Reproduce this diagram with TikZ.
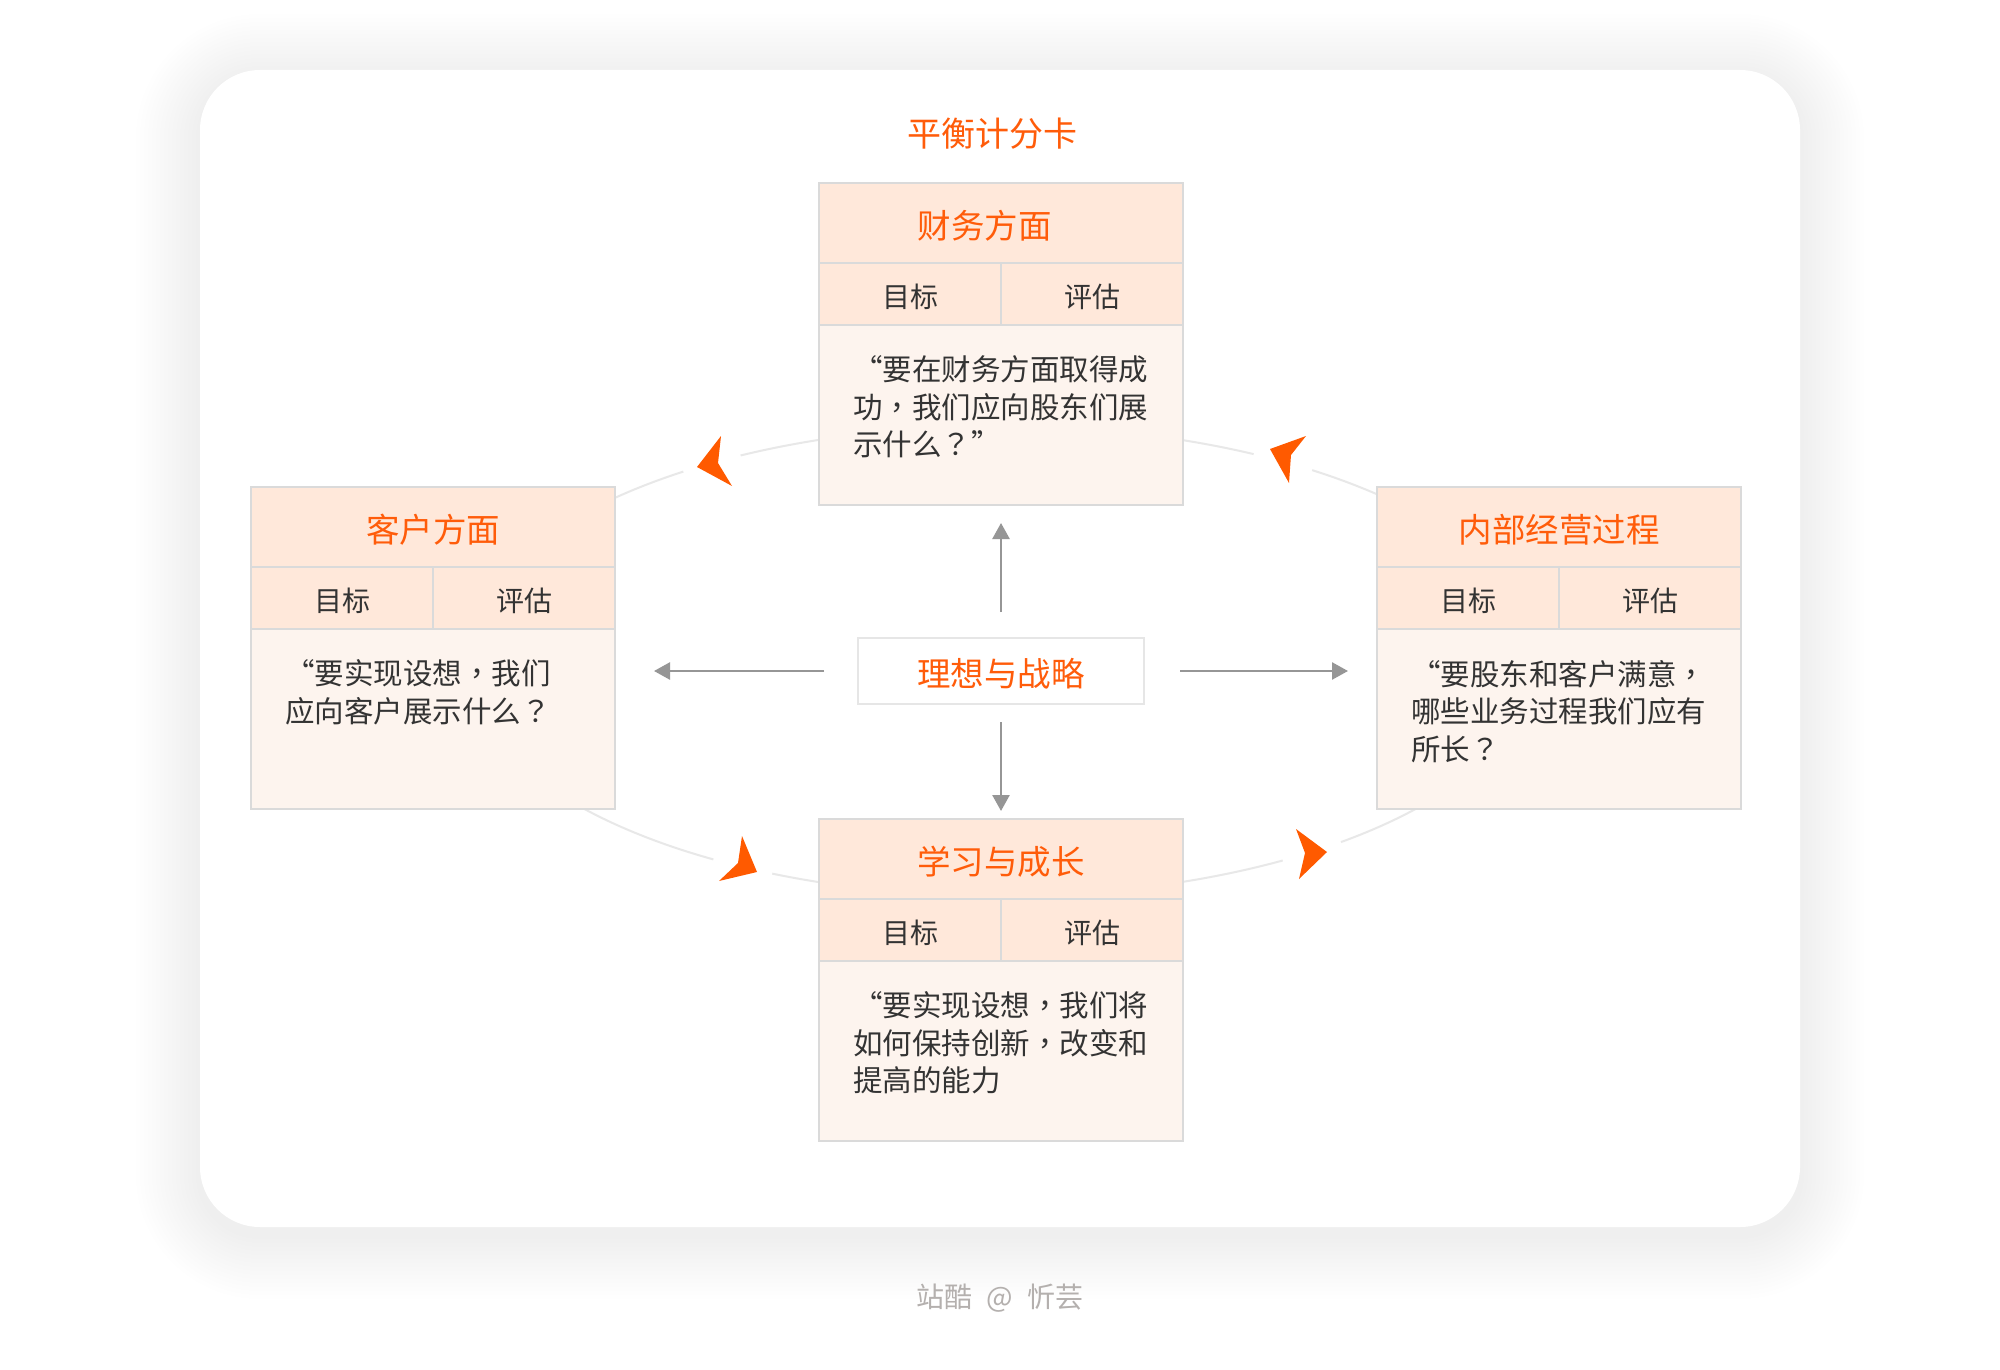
\documentclass[tikz,border=0pt]{standalone}
\usepackage{fontspec}
\newfontfamily\cjk{Noto Sans CJK SC}
\newfontfamily\cjkp{Noto Sans CJK TC}
\usetikzlibrary{arrows.meta,calc}
\definecolor{bscorange}{RGB}{255,92,10}
\definecolor{bscarrow}{RGB}{255,90,0}
\definecolor{bschead}{RGB}{255,232,218}
\definecolor{bscbody}{RGB}{253,244,238}
\definecolor{bscborder}{RGB}{218,218,218}
\definecolor{bsctext}{RGB}{51,51,51}
\definecolor{bscgray}{RGB}{150,150,150}
\definecolor{bscring}{RGB}{232,232,232}
\definecolor{bscfoot}{RGB}{180,176,174}
\definecolor{bsccenter}{RGB}{230,230,230}
\newcommand\bscquote{\makebox[29.5pt][r]{“}}
\newcommand\bsccm{{\cjkp ，}}
\newcommand\bscqm{{\cjkp ？}}
\newcommand\bsccard[5]{%
  \node[hdr] (#1) at (#2,#3) {#4};
  \node[subcell] (#1L) at (#2,#3+80) {目标};
  \node[subcell] (#1R) at (#2+182,#3+80) {评估};
  \node[bodybox] (#1B) at (#2,#3+142) {};
  \node[bodytext] (#1T) at (#2+34,#3+173) {#5};
}
\begin{document}
\begin{tikzpicture}[x=1pt,y=-1pt,
  hdr/.style={draw=bscborder, line width=2pt, fill=bschead, minimum width=364pt, minimum height=80pt, inner sep=0pt, outer sep=0pt, anchor=north west, text=bscorange, text height=35.5pt, text depth=4pt, font=\cjk\fontsize{33.5}{40}\selectfont},
  subcell/.style={draw=bscborder, line width=2pt, fill=bschead, minimum width=182pt, minimum height=62pt, inner sep=0pt, outer sep=0pt, anchor=north west, text=bsctext, text height=30.3pt, text depth=3pt, font=\cjk\fontsize{28}{34}\selectfont},
  bodybox/.style={draw=bscborder, line width=2pt, fill=bscbody, minimum width=364pt, minimum height=180pt, inner sep=0pt, outer sep=0pt, anchor=north west},
  bodytext/.style={anchor=north west, inner sep=0pt, outer sep=0pt, align=left, text=bsctext, font=\cjk\fontsize{29.5}{37.5}\selectfont},
  ring/.style={draw=bscring, line width=2pt},
  garrow/.style={draw=bscgray, line width=2.5pt, -{Triangle[width=17pt,length=16pt]}},
  tipfill/.style={fill=bscarrow}
]
\useasboundingbox (0,0) rectangle (2000,1370);
\fill[white] (0,0) rectangle (2000,1370);
% soft shadow
\foreach \i in {1,...,16} {
  \pgfmathsetmacro\dd{\i*4}
  \pgfmathsetmacro\rr{60+\i*4}
  \fill[black, opacity=0.0033, rounded corners=\rr pt] (200-\dd,78-\dd) rectangle (1800+\dd,1235+\dd);
}
\fill[white, rounded corners=60pt] (200,70) rectangle (1800,1227);

% title
\node[text=bscorange, font=\cjk\fontsize{34}{40}\selectfont] (title) at (992,134) {平衡计分卡};

% ring (ellipse segments between the cards)
\coordinate (ringc) at (1000,661);
\draw[ring] ($(ringc)+(250.2:535 and 235)$) arc[start angle=250.2, end angle=241.0, x radius=535, y radius=235];
\draw[ring] ($(ringc)+(233.7:535 and 235)$) arc[start angle=233.7, end angle=223.5, x radius=535, y radius=235];
\draw[ring] ($(ringc)+(289.8:535 and 235)$) arc[start angle=289.8, end angle=298.3, x radius=535, y radius=235];
\draw[ring] ($(ringc)+(305.7:535 and 235)$) arc[start angle=305.7, end angle=315.3, x radius=535, y radius=235];
\draw[ring] ($(ringc)+(141.5:535 and 235)$) arc[start angle=141.5, end angle=122.4, x radius=535, y radius=235];
\draw[ring] ($(ringc)+(115.2:535 and 235)$) arc[start angle=115.2, end angle=109.8, x radius=535, y radius=235];
\draw[ring] ($(ringc)+(70.2:535 and 235)$) arc[start angle=70.2, end angle=58.1, x radius=535, y radius=235];
\draw[ring] ($(ringc)+(50.4:535 and 235)$) arc[start angle=50.4, end angle=38.5, x radius=535, y radius=235];

% orange arrowheads on the ring
\fill[tipfill] (697,467) -- (721,436) -- (718,463) -- (732,486) -- cycle;
\fill[tipfill] (1270,449) -- (1306,436) -- (1291,455) -- (1289,483) -- cycle;
\fill[tipfill] (757,872) -- (742,836) -- (738,863) -- (719,881) -- cycle;
\fill[tipfill] (1327,852) -- (1296,829) -- (1305,853) -- (1299,879) -- cycle;

% cards
\bsccard{fin}{819}{183}{财务方面\hspace*{33pt}}{\bscquote 要在财务方面取得成\\功\bsccm 我们应向股东们展\\示什么\bscqm ”}
\bsccard{cus}{251}{487}{客户方面}{\bscquote 要实现设想\bsccm 我们\\应向客户展示什么\bscqm}
\bsccard{int}{1377}{487}{内部经营过程}{\bscquote 要股东和客户满意\bsccm\\哪些业务过程我们应有\\所长\bscqm}
\bsccard{lrn}{819}{819}{学习与成长}{\bscquote 要实现设想\bsccm 我们将\\如何保持创新\bsccm 改变和\\提高的能力}

% centre
\node[draw=bsccenter, line width=2pt, fill=white, minimum width=286pt, minimum height=66pt, inner sep=0pt, outer sep=0pt, text=bscorange, text height=35.5pt, text depth=4pt, font=\cjk\fontsize{33.5}{40}\selectfont] (ideal) at (1001,671) {理想与战略};

\draw[garrow, shorten <=26pt, shorten >=18pt] (ideal.north) -- (finB.south);
\draw[garrow, shorten <=18pt, shorten >=8pt] (ideal.south) -- (lrn.north);
\draw[garrow, shorten <=36pt, shorten >=29pt] (ideal.east) -- (ideal.east -| intB.west);
\draw[garrow, shorten <=34pt, shorten >=39pt] (ideal.west) -- (ideal.west -| cusB.east);

% footer
\node[text=bscfoot, font=\cjk\fontsize{28}{34}\selectfont] (foot) at (1000,1298) {站酷\hspace{8pt} @ \hspace{8pt}忻芸};
\end{tikzpicture}
\end{document}
